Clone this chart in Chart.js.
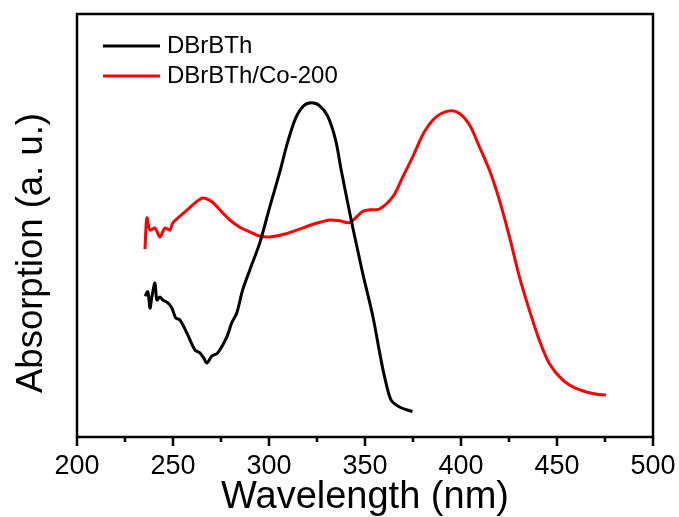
<!DOCTYPE html>
<html>
<head>
<meta charset="utf-8">
<script src="https://cdn.jsdelivr.net/npm/chart.js@4.4.1/dist/chart.umd.min.js"></script>
<style>
  html, body { margin: 0; padding: 0; background: #fff; }
  canvas { display: block; }
</style>
</head>
<body>
<canvas id="absChart" width="679" height="517"></canvas>
<script>
// UV-vis absorption spectra (a.u., 0-100 scale)
const seriesNames = ["DBrBTh", "DBrBTh/Co-200"];
const seriesColors = ["#000000", "#ff0000"];

const dbrbthWl = [235.4, 236.9, 238.0, 239.0, 240.6, 241.6, 243.2, 244.7, 247.3, 249.4,
  251.5, 253.6, 257.2, 261.4, 264.0, 266.0, 267.6, 270.2, 273.3, 278.0,
  280.6, 283.2, 286.3, 290.0, 295.2, 300.4, 305.6, 309.7, 313.9, 318.0,
  322.2, 326.4, 330.5, 334.7, 337.6, 342.8, 345.6, 348.9, 354.1, 357.6,
  360.2, 363.6, 368.0, 374.7];
const dbrbthAbs = [33.3, 34.3, 30.5, 33.1, 36.4, 32.4, 33.1, 32.4, 31.7, 30.5,
  28.1, 27.7, 24.6, 20.6, 19.9, 18.7, 17.5, 19.1, 19.9, 23.6,
  27.0, 29.3, 34.8, 39.5, 45.9, 54.4, 62.6, 69.7, 75.4, 78.3,
  79.0, 78.3, 75.9, 70.2, 63.1, 51.3, 45.4, 38.5, 28.5, 20.0,
  14.2, 8.7, 7.1, 6.0];

const coWl = [235.4, 236.4, 238.0, 240.6, 243.2, 245.8, 248.4, 249.9, 256.2, 261.4,
  265.5, 270.2, 275.4, 279.6, 284.8, 290.0, 295.2, 300.4, 308.2, 314.4,
  323.8, 331.6, 336.8, 342.0, 348.7, 352.4, 357.6, 364.5, 369.7, 374.9,
  381.0, 387.1, 394.0, 399.2, 404.4, 409.6, 414.8, 420.0, 425.2, 430.4,
  435.6, 440.8, 446.0, 452.9, 459.9, 468.5, 475.5];
const coAbs = [44.4, 51.8, 48.9, 49.4, 47.3, 49.4, 48.9, 50.6, 53.2, 55.3,
  56.5, 55.6, 53.2, 51.3, 49.6, 48.5, 47.5, 47.3, 48.0, 48.9,
  50.4, 51.3, 51.1, 50.7, 53.3, 53.7, 53.9, 56.8, 61.5, 66.3,
  72.2, 75.7, 77.1, 76.5, 73.8, 68.6, 63.1, 56.0, 47.4, 37.9,
  30.0, 22.9, 17.4, 13.5, 11.5, 10.3, 9.9];

const xMin = 200, xMax = 500, xStep = 25, xLabelEvery = 50;

const FONT = "'Liberation Sans', Arial, sans-serif";

function toPoints(xs, ys) {
  return xs.map((x, i) => ({ x, y: ys[i] }));
}

// frame, outward x ticks (long major / short minor), legend and y title
const decorations = {
  id: "decorations",
  afterDraw(chart) {
    const { ctx, chartArea: a, scales } = chart;
    ctx.save();
    ctx.strokeStyle = "#000";
    ctx.lineWidth = 2.5;
    ctx.strokeRect(a.left, a.top, a.right - a.left, a.bottom - a.top);

    const xs = scales.x;
    ctx.beginPath();
    xs.ticks.forEach((t) => {
      const px = xs.getPixelForValue(t.value);
      const len = t.value % xLabelEvery === 0 ? 9 : 5;
      ctx.moveTo(px, a.bottom);
      ctx.lineTo(px, a.bottom + len);
    });
    ctx.stroke();

    // legend
    ctx.font = "24px " + FONT;
    ctx.textBaseline = "middle";
    ctx.fillStyle = "#000";
    chart.data.datasets.forEach((ds, i) => {
      const y = 46 + i * 30;
      ctx.strokeStyle = ds.borderColor;
      ctx.lineWidth = 3;
      ctx.beginPath();
      ctx.moveTo(103, y);
      ctx.lineTo(160, y);
      ctx.stroke();
      ctx.fillText(ds.label, 167, y);
    });

    // y title
    ctx.translate(32, 253);
    ctx.rotate(-Math.PI / 2);
    ctx.font = "36.5px " + FONT;
    ctx.textAlign = "center";
    ctx.fillText("Absorption (a. u.)", 0, 0);
    ctx.restore();
  }
};

new Chart(document.getElementById("absChart"), {
  type: "line",
  data: {
    datasets: [
      { label: seriesNames[0], data: toPoints(dbrbthWl, dbrbthAbs), borderColor: seriesColors[0] },
      { label: seriesNames[1], data: toPoints(coWl, coAbs), borderColor: seriesColors[1] }
    ]
  },
  options: {
    responsive: false,
    animation: false,
    layout: { padding: { top: 14, right: 26, left: 0, bottom: 0 } },
    elements: {
      point: { radius: 0 },
      line: { borderWidth: 3, tension: 0.3, fill: false }
    },
    plugins: { legend: { display: false }, tooltip: { enabled: false } },
    scales: {
      x: {
        type: "linear",
        min: xMin,
        max: xMax,
        grid: { display: false, drawTicks: false },
        border: { display: false },
        ticks: {
          stepSize: xStep,
          autoSkip: false,
          maxRotation: 0,
          padding: 13,
          color: "#000",
          font: { family: FONT, size: 27 },
          callback: (v) => (v % xLabelEvery === 0 ? String(v) : "")
        },
        title: {
          display: true,
          text: "Wavelength (nm)",
          color: "#000",
          padding: 0,
          font: { family: FONT, size: 38, lineHeight: 1 }
        },
        afterFit: (s) => { s.height = 80; s.paddingLeft = 0; s.paddingRight = 0; }
      },
      y: {
        min: 0,
        max: 100,
        grid: { display: false, drawTicks: false },
        border: { display: false },
        ticks: { display: false },
        afterFit: (s) => { s.width = 77; s.paddingTop = 0; s.paddingBottom = 0; }
      }
    }
  },
  plugins: [decorations]
});
</script>
</body>
</html>
